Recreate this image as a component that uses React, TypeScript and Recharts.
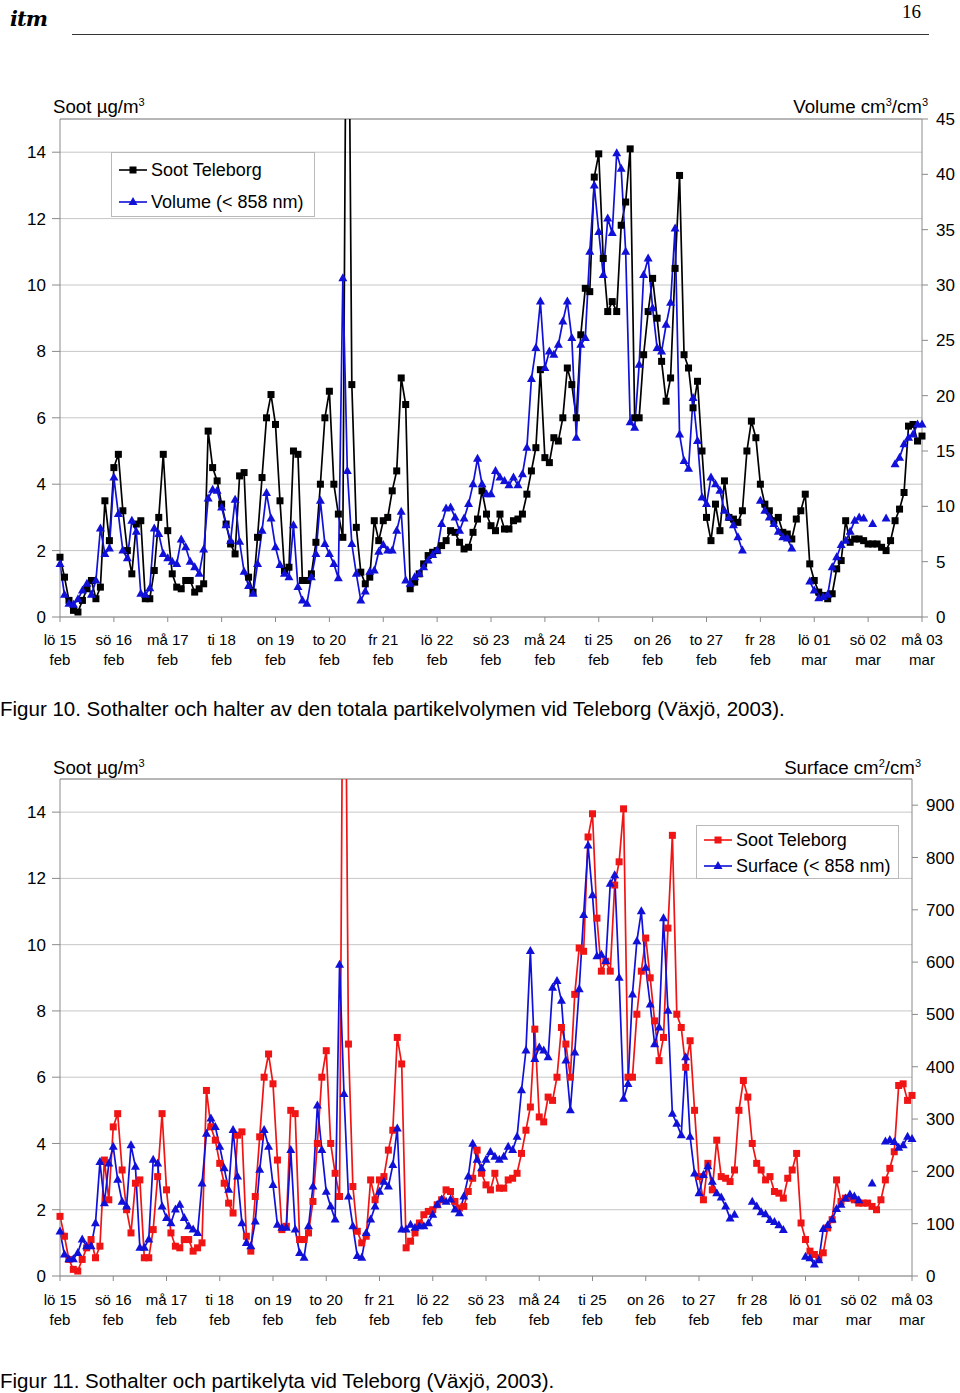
import { LineChart, Line, XAxis, YAxis, CartesianGrid, ReferenceLine, Legend } from 'recharts';

const dayLabels = ['lö 15', 'sö 16', 'må 17', 'ti 18', 'on 19', 'to 20', 'fr 21', 'lö 22', 'sö 23', 'må 24', 'ti 25', 'on 26', 'to 27', 'fr 28', 'lö 01', 'sö 02', 'må 03'];
const monthLabels = ['feb', 'feb', 'feb', 'feb', 'feb', 'feb', 'feb', 'feb', 'feb', 'feb', 'feb', 'feb', 'feb', 'feb', 'mar', 'mar', 'mar'];
const hourTicks = [0, 24, 48, 72, 96, 120, 144, 168, 192, 216, 240, 264, 288, 312, 336, 360, 384];
const sootTicks = [0, 2, 4, 6, 8, 10, 12, 14];
const volumeTicks = [0, 5, 10, 15, 20, 25, 30, 35, 40, 45];
const surfaceTicks = [0, 100, 200, 300, 400, 500, 600, 700, 800, 900];

// one value every 2 hours from lö 15 feb 00:00, one row per day
const soot = [
  1.8, 1.2, 0.5, 0.2, 0.15, 0.5, 0.85, 1.1, 0.55, 0.9, 3.5, 2.3,
  4.5, 4.9, 3.2, 2.0, 1.3, 2.8, 2.9, 0.55, 0.55, 1.4, 3.0, 4.9,
  2.6, 1.3, 0.9, 0.85, 1.1, 1.1, 0.75, 0.85, 1.0, 5.6, 4.5, 4.1,
  3.4, 2.8, 2.2, 1.9, 4.25, 4.35, 1.2, 0.75, 2.4, 4.2, 6.0, 6.7,
  5.8, 3.5, 1.4, 1.5, 5.0, 4.9, 1.1, 1.1, 1.3, 2.25, 4.0, 6.0,
  6.8, 4.0, 3.1, 2.4, 25, 7.0, 2.7, 1.35, 1.0, 1.2, 2.9, 2.3,
  2.9, 3.0, 3.8, 4.4, 7.2, 6.4, 0.85, 1.05, 1.3, 1.6, 1.85, 1.95,
  2.0, 2.15, 2.3, 2.6, 2.55, 2.25, 2.05, 2.1, 2.55, 2.95, 3.8, 3.1,
  2.75, 2.6, 3.1, 2.65, 2.65, 2.9, 2.95, 3.1, 3.7, 4.4, 5.1, 7.45,
  4.8, 4.65, 5.4, 5.3, 6.0, 7.5, 7.0, 6.0, 8.5, 9.9, 9.8, 13.25,
  13.95, 10.8, 9.2, 9.5, 9.2, 11.8, 12.5, 14.1, 6.0, 6.0, 7.9, 9.2,
  10.2, 9.0, 7.7, 6.5, 7.2, 10.5, 13.3, 7.9, 7.5, 6.3, 7.1, 5.0,
  3.0, 2.3, 3.4, 2.6, 4.1, 3.0, 2.95, 2.85, 3.2, 5.0, 5.9, 5.4,
  4.0, 3.4, 3.2, 2.9, 3.0, 2.55, 2.5, 2.35, 2.95, 3.2, 3.7, 1.6,
  1.1, 0.75, 0.65, 0.55, 0.7, 1.45, 1.7, 2.9, 2.25, 2.35, 2.35, 2.3,
  2.2, 2.2, 2.2, 2.1, 2.0, 2.3, 2.9, 3.25, 3.75, 5.75, 5.8, 5.3,
  5.45,
];

const volume = [
  4.8, 2.0, 1.2, 1.1, 1.6, 2.4, 3.0, 2.0, 3.3, 8.0, 5.7, 6.2,
  12.6, 9.3, 6.0, 5.3, 8.7, 7.7, 2.1, 2.0, 2.6, 8.0, 7.5, 5.7,
  5.3, 5.0, 4.8, 7.0, 6.3, 5.0, 4.5, 3.9, 6.1, 10.7, 11.5, 11.4,
  9.9, 8.3, 6.9, 10.6, 6.8, 4.1, 2.8, 2.1, 4.8, 7.8, 11.2, 8.9,
  6.3, 4.7, 3.9, 3.6, 8.3, 2.7, 1.5, 1.2, 3.6, 5.7, 10.5, 6.6,
  5.7, 4.8, 3.5, 30.6, 13.2, 6.6, 3.9, 1.5, 2.3, 4.1, 4.2, 5.9,
  6.5, 6.0, 6.0, 7.8, 9.5, 3.3, 3.0, 3.6, 3.9, 4.5, 5.1, 5.6,
  6.0, 8.4, 9.8, 9.9, 9.0, 7.8, 8.9, 10.2, 12.0, 14.3, 12.0, 11.1,
  11.1, 13.2, 12.6, 12.3, 11.9, 12.6, 11.9, 12.9, 15.3, 21.5, 24.3, 28.5,
  22.5, 24.0, 23.7, 24.6, 26.7, 28.5, 25.2, 16.2, 24.6, 25.2, 33.0, 39.0,
  34.8, 30.9, 36.0, 34.7, 41.9, 40.5, 33.0, 17.6, 17.1, 22.8, 30.9, 32.4,
  27.9, 24.3, 24.0, 26.4, 28.4, 35.1, 16.5, 14.1, 13.4, 19.8, 15.9, 10.8,
  10.2, 12.6, 12.0, 11.4, 9.6, 9.0, 8.3, 7.2, 6.0, null, null, null,
  10.5, 9.6, 9.0, 8.4, 7.7, 7.2, 7.1, 6.2, null, null, null, 3.2,
  2.4, 1.7, 1.8, 2.0, 4.5, 5.4, 6.5, 6.9, 7.7, 8.7, 9.0, 8.9,
  null, 8.4, null, null, 8.9, null, 13.8, 14.4, 15.6, 16.2, 16.5, 17.4,
  17.4,
];

const surface = [
  85, 41, 32, 32, 44, 70, 57, 57, 101, 218, 139, 215,
  247, 184, 142, 133, 250, 209, 54, 54, 70, 222, 215, 133,
  111, 101, 127, 136, 111, 95, 89, 82, 177, 272, 301, 285,
  247, 206, 165, 279, 190, 101, 63, 57, 104, 203, 279, 247,
  174, 98, 92, 92, 241, 89, 44, 35, 95, 171, 326, 241,
  161, 133, 108, 595, 348, 152, 95, 38, 35, 82, 108, 133,
  161, 180, 171, 212, 282, 89, 89, 98, 92, 95, 95, 101,
  117, 136, 146, 142, 146, 127, 120, 152, 190, 253, 222, 206,
  222, 237, 228, 222, 228, 247, 241, 266, 355, 431, 621, 415,
  437, 431, 418, 551, 564, 526, 412, 317, 427, 548, 690, 823,
  728, 611, 614, 602, 750, 766, 570, 339, 367, 538, 640, 697,
  589, 519, 443, 475, 684, 507, 310, 291, 269, 418, 266, 196,
  158, 193, 210, 180, 158, 150, 133, 110, 117, null, null, null,
  142, 133, 122, 118, 107, 103, 97, 88, null, null, null, null,
  37, 34, 22, 30, 90, 97, 108, 128, 136, 148, 156, 152,
  145, null, null, 177, null, null, 257, 260, 256, 245, 250, 266,
  262,
];

const FONT = '"Liberation Sans", Arial, sans-serif';
const GRID = '#c6c6c6';
const AXIS = '#8a8a8a';
const BLUE = '#1010d8';

const fig10Rows = soot.map((s, i) => ({ h: i * 2, soot: s, other: volume[i] }));
const fig11Rows = soot.map((s, i) => ({ h: i * 2, soot: s, other: surface[i] }));

function squareDot(color: string) {
  return (p: any) => {
    const k = `sq-${p.index}`;
    if (p.cx == null || p.cy == null || Number.isNaN(p.cy)) return <g key={k} />;
    return <rect key={k} x={p.cx - 3.5} y={p.cy - 3.5} width={7} height={7} fill={color} />;
  };
}

function triangleDot(color: string) {
  return (p: any) => {
    const k = `tr-${p.index}`;
    if (p.cx == null || p.cy == null || Number.isNaN(p.cy)) return <g key={k} />;
    const { cx, cy } = p;
    return <polygon key={k} points={`${cx},${cy - 5} ${cx + 4.5},${cy + 3} ${cx - 4.5},${cy + 3}`} fill={color} />;
  };
}

function LegendMark({ color, shape }: { color: string; shape: 'square' | 'triangle' }) {
  return (
    <svg width={30} height={12} style={{ flex: 'none' }}>
      <line x1={1} y1={6} x2={29} y2={6} stroke={color} strokeWidth={1.6} />
      {shape === 'square' ? (
        <rect x={11.5} y={2.5} width={7} height={7} fill={color} />
      ) : (
        <polygon points="15,1 19.5,9 10.5,9" fill={color} />
      )}
    </svg>
  );
}

type ChartProps = {
  top: number;
  rows: any[];
  plotBottom: number;
  sootColor: string;
  sootName: string;
  otherColor: string;
  otherName: string;
  rightMax: number;
  rightTicks: number[];
  rightWidth: number;
  rightTickMargin: number;
  legendBox: { left: number; top: number; width: number; height: number; row: number; padLeft: number };
  labelDy: number;
};

function DualChart(props: ChartProps) {
  const DayTick = ({ x, y, payload }: any) => {
    const i = Math.round(payload.value / 24);
    return (
      <text x={x} y={y} textAnchor="middle" fontSize={15} fontFamily={FONT} fill="#000">
        <tspan x={x} dy={props.labelDy}>{dayLabels[i]}</tspan>
        <tspan x={x} dy={20}>{monthLabels[i]}</tspan>
      </text>
    );
  };

  const lb = props.legendBox;
  const renderLegend = () => (
    <div
      style={{
        width: lb.width,
        height: lb.height,
        boxSizing: 'border-box',
        border: '1px solid #b9b9b9',
        background: '#fff',
        paddingTop: 1,
        paddingLeft: lb.padLeft,
        fontFamily: FONT,
        fontSize: 18,
        color: '#000',
      }}
    >
      <div style={{ display: 'flex', alignItems: 'center', height: lb.row, gap: 3 }}>
        <LegendMark color={props.sootColor} shape="square" />
        <span>{props.sootName}</span>
      </div>
      <div style={{ display: 'flex', alignItems: 'center', height: lb.row, gap: 3 }}>
        <LegendMark color={props.otherColor} shape="triangle" />
        <span>{props.otherName}</span>
      </div>
    </div>
  );

  return (
    <div style={{ position: 'absolute', left: 0, top: props.top }}>
      <LineChart width={960} height={700} data={props.rows} margin={{ top: 119, right: 0, bottom: 0, left: 0 }}>
        <CartesianGrid yAxisId="left" vertical={false} stroke={GRID} />
        <XAxis
          dataKey="h"
          type="number"
          domain={[0, 384]}
          ticks={hourTicks}
          interval={0}
          height={700 - props.plotBottom}
          tickSize={5}
          tickMargin={2}
          stroke={AXIS}
          tick={<DayTick />}
        />
        <YAxis
          yAxisId="left"
          domain={[0, 15]}
          ticks={sootTicks}
          allowDataOverflow
          interval={0}
          width={60}
          tickSize={8}
          tickMargin={6}
          stroke={AXIS}
          tick={{ fill: '#000', fontSize: 17, fontFamily: FONT }}
        />
        <YAxis
          yAxisId="right"
          orientation="right"
          domain={[0, props.rightMax]}
          ticks={props.rightTicks}
          allowDataOverflow
          interval={0}
          width={props.rightWidth}
          tickSize={6}
          tickMargin={props.rightTickMargin}
          stroke={AXIS}
          tick={{ fill: '#000', fontSize: 17, fontFamily: FONT, textAnchor: 'start' }}
        />
        <ReferenceLine yAxisId="left" y={15} stroke={AXIS} />
        <Line
          yAxisId="left"
          dataKey="soot"
          name={props.sootName}
          stroke={props.sootColor}
          strokeWidth={1.7}
          dot={squareDot(props.sootColor)}
          activeDot={false}
          connectNulls={false}
          isAnimationActive={false}
        />
        <Line
          yAxisId="right"
          dataKey="other"
          name={props.otherName}
          stroke={props.otherColor}
          strokeWidth={1.7}
          dot={triangleDot(props.otherColor)}
          activeDot={false}
          connectNulls={false}
          isAnimationActive={false}
        />
        <Legend
          layout="vertical"
          align="center"
          verticalAlign="middle"
          content={renderLegend}
          wrapperStyle={{ position: 'absolute', left: lb.left, top: lb.top, width: lb.width, height: lb.height }}
        />
      </LineChart>
    </div>
  );
}

const textStyle = { position: 'absolute' as const, fontFamily: FONT, fontSize: 18.7, color: '#000', lineHeight: '20px', whiteSpace: 'nowrap' as const };
const sup = { fontSize: 11, verticalAlign: '7px', lineHeight: '0' };

export default function App() {
  return (
    <div style={{ position: 'relative', width: 960, height: 1393, background: '#fff', overflow: 'hidden' }}>
      <style>{'body{margin:0;background:#fff}'}</style>

      <div style={{ position: 'absolute', left: 10, top: 6, fontFamily: '"DejaVu Serif", serif', fontStyle: 'italic', fontWeight: 'bold', fontSize: 21, letterSpacing: -1 }}>itm</div>
      <div style={{ position: 'absolute', left: 902, top: 1, fontFamily: '"Liberation Serif", serif', fontSize: 19 }}>16</div>
      <div style={{ position: 'absolute', left: 72, top: 34, width: 857, height: 1, background: '#333' }} />

      <DualChart
        top={0}
        rows={fig10Rows}
        plotBottom={617}
        sootColor="#000000"
        sootName="Soot Teleborg"
        otherColor={BLUE}
        otherName="Volume (< 858 nm)"
        rightMax={45}
        rightTicks={volumeTicks}
        rightWidth={38}
        rightTickMargin={8}
        legendBox={{ left: 111, top: 152, width: 204, height: 65, row: 32, padLeft: 6 }}
        labelDy={21}
      />
      <div style={{ ...textStyle, left: 53, top: 97 }}>
        Soot µg/m<sup style={sup}>3</sup>
      </div>
      <div style={{ ...textStyle, right: 32, top: 97, textAlign: 'right' }}>
        Volume cm<sup style={sup}>3</sup>/cm<sup style={sup}>3</sup>
      </div>
      <div style={{ ...textStyle, left: 0, top: 698, fontSize: 20.5, lineHeight: '22px' }}>
        Figur 10. Sothalter och halter av den totala partikelvolymen vid Teleborg (Växjö, 2003).
      </div>

      <DualChart
        top={660}
        rows={fig11Rows}
        plotBottom={616}
        sootColor="#f01414"
        sootName="Soot Teleborg"
        otherColor={BLUE}
        otherName="Surface (< 858 nm)"
        rightMax={950}
        rightTicks={surfaceTicks}
        rightWidth={48}
        rightTickMargin={8}
        legendBox={{ left: 696, top: 165, width: 203, height: 54, row: 26, padLeft: 6 }}
        labelDy={22}
      />
      <div style={{ ...textStyle, left: 53, top: 758 }}>
        Soot µg/m<sup style={sup}>3</sup>
      </div>
      <div style={{ ...textStyle, right: 39, top: 758, textAlign: 'right' }}>
        Surface cm<sup style={sup}>2</sup>/cm<sup style={sup}>3</sup>
      </div>
      <div style={{ ...textStyle, left: 0, top: 1370, fontSize: 20.5, lineHeight: '22px' }}>
        Figur 11. Sothalter och partikelyta vid Teleborg (Växjö, 2003).
      </div>
    </div>
  );
}
